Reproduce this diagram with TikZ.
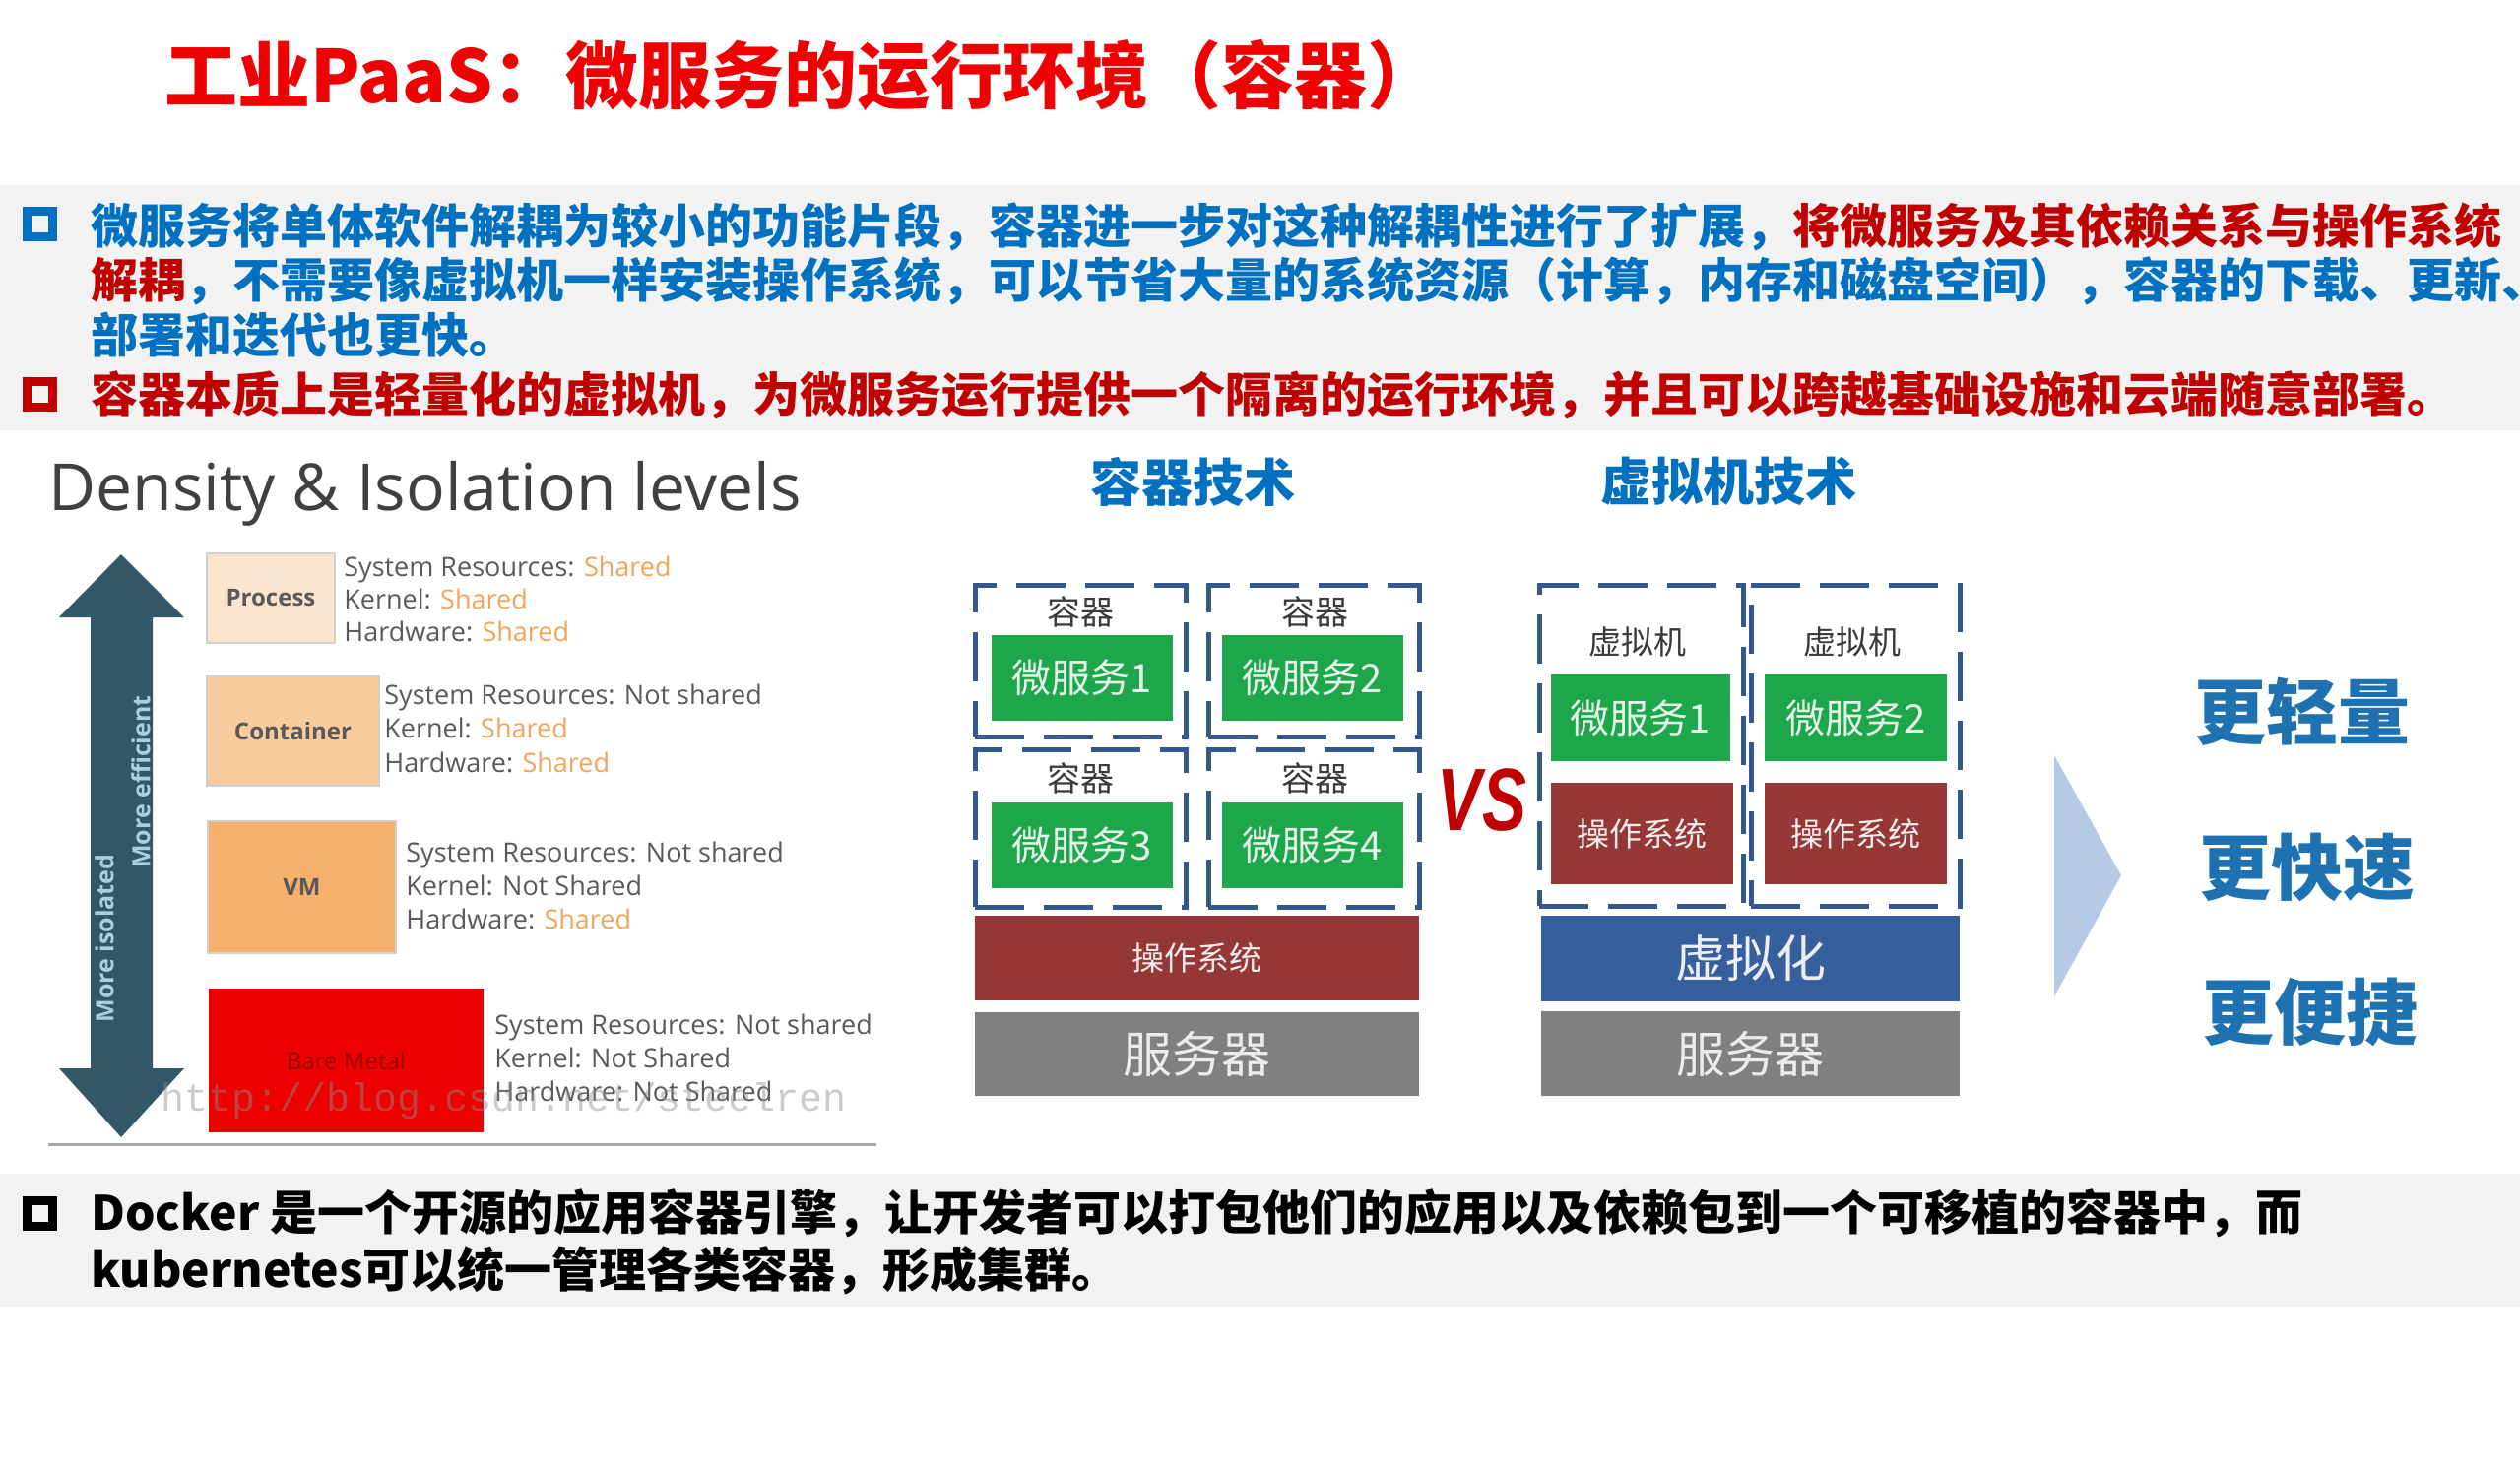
\documentclass[tikz,border=0pt]{standalone}
\usepackage{fontspec}
\setmainfont{Noto Sans CJK SC}
\newfontfamily\osans{Open Sans}
\newfontfamily\lmono{Liberation Mono}
\newfontfamily\vsf{Liberation Sans}
\newcommand\myfs[1]{\fontsize{#1}{#1}\selectfont}
\definecolor{bandgray}{RGB}{242,242,242}
\definecolor{tblue}{RGB}{0,112,192}
\definecolor{tred}{RGB}{192,0,0}
\definecolor{titlered}{RGB}{240,0,0}
\definecolor{dashblue}{RGB}{52,88,142}
\definecolor{msgreen}{RGB}{30,166,75}
\definecolor{osred}{RGB}{149,55,53}
\definecolor{srvgray}{RGB}{128,128,128}
\definecolor{virtblue}{RGB}{53,96,155}
\definecolor{triblue}{RGB}{182,202,228}
\definecolor{adjblue}{RGB}{30,114,178}
\definecolor{arrowteal}{RGB}{50,88,104}
\definecolor{arrowtext}{RGB}{170,205,225}
\definecolor{procfill}{RGB}{251,228,206}
\definecolor{contfill}{RGB}{249,204,160}
\definecolor{vmfill}{RGB}{246,175,108}
\definecolor{bmfill}{RGB}{236,0,0}
\definecolor{infogray}{RGB}{90,90,90}
\definecolor{shorange}{RGB}{242,165,90}
\definecolor{labgray}{RGB}{58,58,58}
\tikzset{
  line/.style={inner sep=0pt, anchor=west, font=\bfseries\myfs{24pt}},
  bulletbox/.style={draw=#1, line width=4.5pt, minimum size=13pt, inner sep=0pt},
  dashbox/.style={draw=dashblue, line width=2.5pt, dash pattern=on 25pt off 10pt, inner sep=0pt},
  block/.style={fill=#1, inner sep=0pt},
  conlabel/.style={inner sep=0pt, text=labgray, font=\myfs{17pt}},
  mslabel/.style={text=white!88!msgreen, font=\myfs{20pt}},
  info/.style={inner sep=0pt, anchor=base west, text=infogray, font=\osans\myfs{13.5pt}},
  lvlbox/.style={fill=#1, draw=black!18, line width=0.6pt, inner sep=0pt, text=black!65, font=\osans\bfseries\myfs{12pt}},
  adv/.style={text=adjblue, font=\bfseries\myfs{36.5pt}, inner sep=0pt},
  colhead/.style={text=tblue, font=\bfseries\myfs{26pt}, inner sep=0pt}
}
\begin{document}
\begin{tikzpicture}[x=0.5pt,y=-0.5pt]
\useasboundingbox (0,0) rectangle (2559,1496);
\fill[white] (0,0) rectangle (2559,1496);
\fill[bandgray] (0,188) rectangle (2559,437);
\fill[bandgray] (0,1192) rectangle (2559,1327);

% title
\node[inner sep=0pt, anchor=west, text=titlered, font=\bfseries\myfs{37pt}] (title) at (167,76) {工业PaaS：微服务的运行环境（容器）};

% top text band
\node[bulletbox=tblue] (b1) at (40,227) {};
\node[line] (l1) at (92,230) {\color{tblue}微服务将单体软件解耦为较小的功能片段，容器进一步对这种解耦性进行了扩展，\color{tred}将微服务及其依赖关系与操作系统};
\node[line] (l2) at (92,285) {\color{tred}解耦\color{tblue}，不需要像虚拟机一样安装操作系统，可以节省大量的系统资源（计算，内存和磁盘空间），容器的下载、更新、};
\node[line, text=tblue] (l3) at (92,340) {部署和迭代也更快。};
\node[bulletbox=tred] (b2) at (40,400) {};
\node[line, text=tred] (l4) at (92,401) {容器本质上是轻量化的虚拟机，为微服务运行提供一个隔离的运行环境，并且可以跨越基础设施和云端随意部署。};

% bottom text band
\node[bulletbox=black] (b3) at (40,1232) {};
\node[line, text=black] (l5) at (92,1232) {Docker 是一个开源的应用容器引擎，让开发者可以打包他们的应用以及依赖包到一个可移植的容器中，而};
\node[line, text=black] (l6) at (92,1290) {kubernetes可以统一管理各类容器，形成集群。};

% ---- Density & Isolation levels ----
\node[inner sep=0pt, anchor=west, text=black!75, font=\osans\myfs{33pt}] (dtitle) at (49,501) {Density \& Isolation levels};
\fill[arrowteal] (123,563) -- (187,627) -- (155,627) -- (155,1085) -- (187,1085) -- (123,1155) -- (60,1085) -- (92,1085) -- (92,627) -- (60,627) -- cycle;
\node[rotate=90, inner sep=0pt, text=arrowtext, font=\osans\bfseries\myfs{12.5pt}] (misol) at (106,953) {More isolated};
\node[rotate=90, inner sep=0pt, text=arrowtext, font=\osans\bfseries\myfs{12.5pt}] (meff) at (143,794) {More efficient};

\node[lvlbox=procfill, minimum width=65pt, minimum height=45.5pt] (proc) at (275,607.5) {Process};
\node[lvlbox=contfill, minimum width=87.5pt, minimum height=55.5pt] (cont) at (297.5,742.5) {Container};
\node[lvlbox=vmfill, minimum width=95.5pt, minimum height=67pt] (vm) at (306.5,901) {VM};
\node[lvlbox=bmfill, draw=none, minimum width=139.5pt, minimum height=73pt, text=red!60!black, font=\osans\myfs{12pt}] (bm) at (351.5,1077) {Bare Metal};

\node[info] (p1) at (349,585) {System Resources: \textcolor{shorange}{Shared}};
\node[info] (p2) at (349,618) {Kernel: \textcolor{shorange}{Shared}};
\node[info] (p3) at (349,651) {Hardware: \textcolor{shorange}{Shared}};
\node[info] (c1) at (390,715) {System Resources: Not shared};
\node[info] (c2) at (390,749) {Kernel: \textcolor{shorange}{Shared}};
\node[info] (c3) at (390,784) {Hardware: \textcolor{shorange}{Shared}};
\node[info] (v1) at (412,875) {System Resources: Not shared};
\node[info] (v2) at (412,909) {Kernel: Not Shared};
\node[info] (v3) at (412,943) {Hardware: \textcolor{shorange}{Shared}};
\node[info] (m1) at (502,1050) {System Resources: Not shared};
\node[info] (m2) at (502,1084) {Kernel: Not Shared};
\node[info] (m3) at (502,1118) {Hardware: Not Shared};
\node[inner sep=0pt, anchor=west, text=black!45, opacity=0.45, font=\lmono\myfs{20pt}] (wm) at (163,1118) {http://blog.csdn.net/steelren};
\draw[black!35, line width=1.5pt] (49,1162) -- (890,1162);

% ---- container technology ----
\node[colhead] (h1) at (1211,489) {容器技术};
\node[colhead] (h2) at (1755,489) {虚拟机技术};

\node[dashbox, minimum width=107pt, minimum height=77pt] (k1) at (1097,671) {};
\node[dashbox, minimum width=107pt, minimum height=77pt] (k2) at (1334,671) {};
\node[dashbox, minimum width=107pt, minimum height=80pt] (k3) at (1097,841) {};
\node[dashbox, minimum width=107pt, minimum height=80pt] (k4) at (1334,841) {};
\node[conlabel] (kl1) at (1097,621) {容器};
\node[conlabel] (kl2) at (1335,621) {容器};
\node[conlabel] (kl3) at (1097,790) {容器};
\node[conlabel] (kl4) at (1335,790) {容器};
\node[block=msgreen, mslabel, minimum width=92pt, minimum height=43.5pt] (ms1) at (1099,688.5) {微服务1};
\node[block=msgreen, mslabel, minimum width=92pt, minimum height=43.5pt] (ms2) at (1333,688.5) {微服务2};
\node[block=msgreen, mslabel, minimum width=92pt, minimum height=43.5pt] (ms3) at (1099,858.5) {微服务3};
\node[block=msgreen, mslabel, minimum width=92pt, minimum height=43.5pt] (ms4) at (1333,858.5) {微服务4};
\node[block=osred, minimum width=225.5pt, minimum height=43pt, text=white!90!osred, font=\myfs{16.5pt}] (os) at (1215.5,973) {操作系统};
\node[block=srvgray, minimum width=225.5pt, minimum height=42.5pt, text=white!92!black, font=\myfs{25pt}] (srv1) at (1215.5,1070.5) {服务器};

% VS
\node[inner sep=0pt, xscale=0.75, text=tred, font=\vsf\bfseries\itshape\myfs{45pt}] (vs) at (1505,812) {VS};

% ---- VM technology ----
\node[dashbox, minimum width=103.5pt, minimum height=163pt] (vb1) at (1666.5,757) {};
\node[dashbox, minimum width=106pt, minimum height=163pt] (vb2) at (1884,757) {};
\node[conlabel, font=\myfs{16.5pt}] (vl1) at (1663,652) {虚拟机};
\node[conlabel, font=\myfs{16.5pt}] (vl2) at (1881,652) {虚拟机};
\node[block=msgreen, mslabel, minimum width=91pt, minimum height=44pt] (vms1) at (1666,729) {微服务1};
\node[block=msgreen, mslabel, minimum width=92.5pt, minimum height=44pt] (vms2) at (1884.5,729) {微服务2};
\node[block=osred, minimum width=92.5pt, minimum height=51.5pt, text=white!90!osred, font=\myfs{16.5pt}] (vos1) at (1667.5,846.5) {操作系统};
\node[block=osred, minimum width=92.5pt, minimum height=51.5pt, text=white!90!osred, font=\myfs{16.5pt}] (vos2) at (1884.5,846.5) {操作系统};
\node[block=virtblue, minimum width=212.5pt, minimum height=43.5pt, text=white!90!virtblue, font=\myfs{25.5pt}] (virt) at (1777.5,973.5) {虚拟化};
\node[block=srvgray, minimum width=212.5pt, minimum height=43pt, text=white!92!black, font=\myfs{25pt}] (srv2) at (1777.5,1070) {服务器};

% arrow triangle and advantages
\fill[triblue] (2086,767) -- (2154,889) -- (2086,1012) -- cycle;
\node[adv] (a1) at (2338,723) {更轻量};
\node[adv] (a2) at (2343,881) {更快速};
\node[adv] (a3) at (2346,1028) {更便捷};
\end{tikzpicture}
\end{document}
